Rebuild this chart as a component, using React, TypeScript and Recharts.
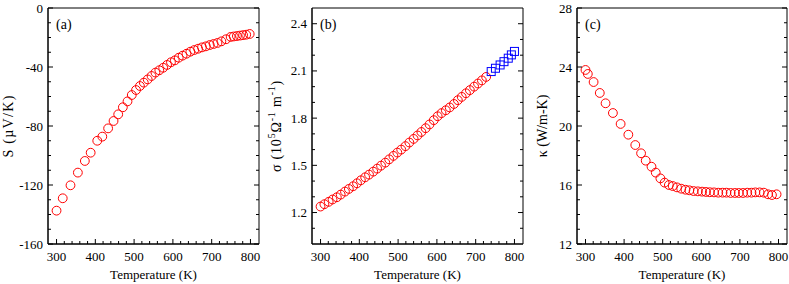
import React from "react";
import { ScatterChart, Scatter, XAxis, YAxis, ReferenceArea } from "recharts";

const FONT = '"Liberation Serif", "Times New Roman", serif';

// (a) Seebeck coefficient
const tempA = [300, 316, 336, 355, 373, 388, 405, 418, 433, 447, 459, 471, 483, 494, 505, 515, 525, 535, 545, 555, 565, 575, 585, 595, 605, 615, 625, 635, 645, 655, 665, 675, 685, 695, 705, 715, 725, 737, 749, 757, 765, 773, 781, 789, 798];
const seebeck = [-137.4, -129, -120.2, -111.6, -103.7, -98.1, -90, -87.2, -81.6, -76.6, -72.1, -67.3, -63.3, -59, -55.6, -52.9, -50.6, -48.4, -46.1, -43.8, -42.2, -40.5, -38.6, -36.8, -35.5, -33.7, -32.3, -31, -29.6, -28.5, -27.6, -26.7, -26, -25.1, -24.4, -23.7, -22.6, -21.2, -19.6, -19.3, -19, -18.7, -18.4, -18.1, -17.6];

// (b) electrical conductivity, red circles then blue squares
const tempB = [300, 310, 321, 331, 342, 352, 363, 373, 384, 394, 404, 415, 425, 436, 446, 456, 467, 477, 488, 498, 508, 519, 529, 540, 550, 560, 571, 581, 592, 602, 612, 623, 633, 644, 654, 664, 675, 685, 696, 706, 716, 727];
const sigma = [1.238, 1.253, 1.268, 1.283, 1.297, 1.314, 1.333, 1.35, 1.367, 1.386, 1.405, 1.424, 1.441, 1.46, 1.479, 1.498, 1.517, 1.538, 1.56, 1.581, 1.6, 1.622, 1.645, 1.668, 1.69, 1.712, 1.736, 1.76, 1.787, 1.812, 1.832, 1.85, 1.868, 1.89, 1.914, 1.935, 1.958, 1.978, 2.0, 2.02, 2.04, 2.062];
const tempBHigh = [740, 751, 763, 773, 784, 792, 800];
const sigmaHigh = [2.096, 2.117, 2.138, 2.159, 2.181, 2.202, 2.224];

// (c) thermal conductivity
const tempC = [300, 306, 321, 337, 352, 371, 391, 411, 429, 444, 456, 471, 482, 494, 505, 516, 526, 537, 548, 559, 569, 580, 591, 602, 612, 622, 633, 644, 655, 665, 676, 687, 697, 708, 719, 730, 740, 751, 762, 773, 783, 795];
const kappa = [23.8, 23.53, 22.98, 22.24, 21.54, 20.88, 20.14, 19.41, 18.71, 18.15, 17.65, 17.24, 16.84, 16.45, 16.16, 16.0, 15.93, 15.84, 15.75, 15.68, 15.64, 15.59, 15.57, 15.55, 15.53, 15.51, 15.5, 15.48, 15.48, 15.48, 15.46, 15.46, 15.46, 15.46, 15.48, 15.48, 15.5, 15.5, 15.48, 15.37, 15.32, 15.37];

// ticks
const tempTicks = [300, 400, 500, 600, 700, 800];
const tempMinor = [320, 340, 360, 380, 420, 440, 460, 480, 520, 540, 560, 580, 620, 640, 660, 680, 720, 740, 760, 780];
const sTicks = [-160, -120, -80, -40, 0];
const sMinor = [-150, -140, -130, -110, -100, -90, -70, -60, -50, -30, -20, -10];
const sigmaTicks = [1.2, 1.5, 1.8, 2.1, 2.4];
const sigmaMinor = [1.1, 1.3, 1.4, 1.6, 1.7, 1.9, 2.0, 2.2, 2.3];
const kappaTicks = [12, 16, 20, 24, 28];
const kappaMinor = [13, 14, 15, 17, 18, 19, 21, 22, 23, 25, 26, 27];

const T_DOMAIN: [number, number] = [278, 822];

const pts = (xs: number[], ys: number[]) => xs.map((t, i) => ({ t, v: ys[i] }));

const isMajor = (v: number, major: number[]) => major.some((m) => Math.abs(m - v) < 1e-6);

const Circle = (p: any) => (
  <circle cx={p.cx} cy={p.cy} r={4.4} fill="none" stroke="#ff0000" strokeWidth={1} />
);
const Square = (p: any) => (
  <rect x={p.cx - 4} y={p.cy - 4} width={8} height={8} fill="none" stroke="#0000ff" strokeWidth={1} />
);

function XTick(props: any) {
  const { x, y, payload } = props;
  const major = isMajor(payload.value, tempTicks);
  const len = major ? 5 : 3;
  return (
    <g>
      <line x1={x} x2={x} y1={y} y2={y - len} stroke="#000" />
      {major && (
        <text x={x} y={y + 17} textAnchor="middle" fontSize={13} fontFamily={FONT} fill="#000">
          {payload.value}
        </text>
      )}
    </g>
  );
}

function makeYTick(major: number[], plotW: number, digits: number) {
  return (props: any) => {
    const { x, y, payload } = props;
    const m = isMajor(payload.value, major);
    const len = m ? 5 : 3;
    return (
      <g>
        <line x1={x} x2={x + len} y1={y} y2={y} stroke="#000" />
        <line x1={x + plotW} x2={x + plotW - len} y1={y} y2={y} stroke="#000" />
        {m && (
          <text x={x - 5} y={y + 4.5} textAnchor="end" fontSize={13} fontFamily={FONT} fill="#000">
            {payload.value.toFixed(digits)}
          </text>
        )}
      </g>
    );
  };
}

const xLabel = (props: any) => {
  const vb = props.viewBox;
  return (
    <text x={vb.x + vb.width / 2} y={vb.y + 35} textAnchor="middle" fontSize={13} fontFamily={FONT} fill="#000">
      Temperature (K)
    </text>
  );
};

function makeYLabel(cx: number, spacing: number, content: React.ReactNode) {
  return (props: any) => {
    const vb = props.viewBox;
    const cy = vb.y + vb.height / 2;
    return (
      <text
        x={cx}
        y={cy}
        transform={`rotate(-90 ${cx} ${cy})`}
        textAnchor="middle"
        dominantBaseline="central"
        fontSize={14}
        letterSpacing={spacing}
        fontFamily={FONT}
        fill="#000"
      >
        {content}
      </text>
    );
  };
}

const panelTag = (tag: string) => (props: any) => {
  const vb = props.viewBox;
  return (
    <text x={vb.x + 8} y={vb.y + 21} fontSize={14} fontFamily={FONT} fill="#000">
      {tag}
    </text>
  );
};

type PanelProps = {
  left: number;
  width: number;
  yWidth: number;
  right: number;
  yDomain: [number, number];
  yMajor: number[];
  yMinor: number[];
  digits: number;
  yLabel: React.ReactNode;
  labelX: number;
  labelSpacing: number;
  tag: string;
  children: React.ReactNode;
};

function Panel({ left, width, yWidth, right, yDomain, yMajor, yMinor, digits, yLabel, labelX, labelSpacing, tag, children }: PanelProps) {
  const plotW = width - yWidth - right;
  return (
    <div style={{ position: "absolute", left, top: 0 }}>
      <ScatterChart width={width} height={284} margin={{ top: 8, right, bottom: 0, left: 0 }}>
        <XAxis
          type="number"
          dataKey="t"
          domain={T_DOMAIN}
          allowDataOverflow
          ticks={[...tempTicks, ...tempMinor].sort((a, b) => a - b)}
          interval={0}
          tickSize={0}
          tickMargin={0}
          tickLine={false}
          axisLine={{ stroke: "#000" }}
          height={40}
          tick={XTick}
          label={xLabel}
        />
        <YAxis
          type="number"
          dataKey="v"
          domain={yDomain}
          allowDataOverflow
          ticks={[...yMajor, ...yMinor].sort((a, b) => a - b)}
          interval={0}
          tickSize={0}
          tickMargin={0}
          tickLine={false}
          axisLine={{ stroke: "#000" }}
          width={yWidth}
          tick={makeYTick(yMajor, plotW, digits)}
          label={makeYLabel(labelX, labelSpacing, yLabel)}
        />
        <ReferenceArea
          x1={T_DOMAIN[0]}
          x2={T_DOMAIN[1]}
          y1={yDomain[0]}
          y2={yDomain[1]}
          fill="none"
          fillOpacity={0}
          stroke="#000"
          strokeWidth={1}
          label={panelTag(tag)}
        />
        {children}
      </ScatterChart>
    </div>
  );
}

export default function App() {
  return (
    <div style={{ position: "absolute", left: 0, top: 0, width: 789, height: 284, background: "#fff" }}>
      <Panel
        left={0}
        width={265}
        yWidth={48}
        right={6}
        yDomain={[-160, 0]}
        yMajor={sTicks}
        yMinor={sMinor}
        digits={0}
        labelX={8}
        labelSpacing={1.3}
        tag="(a)"
        yLabel={"S (\u00b5V/K)"}
      >
        <Scatter data={pts(tempA, seebeck)} shape={Circle} isAnimationActive={false} />
      </Panel>
      <Panel
        left={265}
        width={265}
        yWidth={47}
        right={7}
        yDomain={[1.0, 2.5]}
        yMajor={sigmaTicks}
        yMinor={sigmaMinor}
        digits={1}
        labelX={11}
        labelSpacing={0.8}
        tag="(b)"
        yLabel={
          <>
            {"\u03c3 (10"}
            <tspan dy={-5} fontSize={10}>5</tspan>
            <tspan dy={5}>{"\u03a9"}</tspan>
            <tspan dy={-5} fontSize={10}>-1</tspan>
            <tspan dy={5}> m</tspan>
            <tspan dy={-5} fontSize={10}>-1</tspan>
            <tspan dy={5}>)</tspan>
          </>
        }
      >
        <Scatter data={pts(tempB, sigma)} shape={Circle} isAnimationActive={false} />
        <Scatter data={pts(tempBHigh, sigmaHigh)} shape={Square} isAnimationActive={false} />
      </Panel>
      <Panel
        left={530}
        width={259}
        yWidth={47}
        right={2}
        yDomain={[12, 28]}
        yMajor={kappaTicks}
        yMinor={kappaMinor}
        digits={0}
        labelX={12}
        labelSpacing={0}
        tag="(c)"
        yLabel={"\u03ba (W/m-K)"}
      >
        <Scatter data={pts(tempC, kappa)} shape={Circle} isAnimationActive={false} />
      </Panel>
    </div>
  );
}
